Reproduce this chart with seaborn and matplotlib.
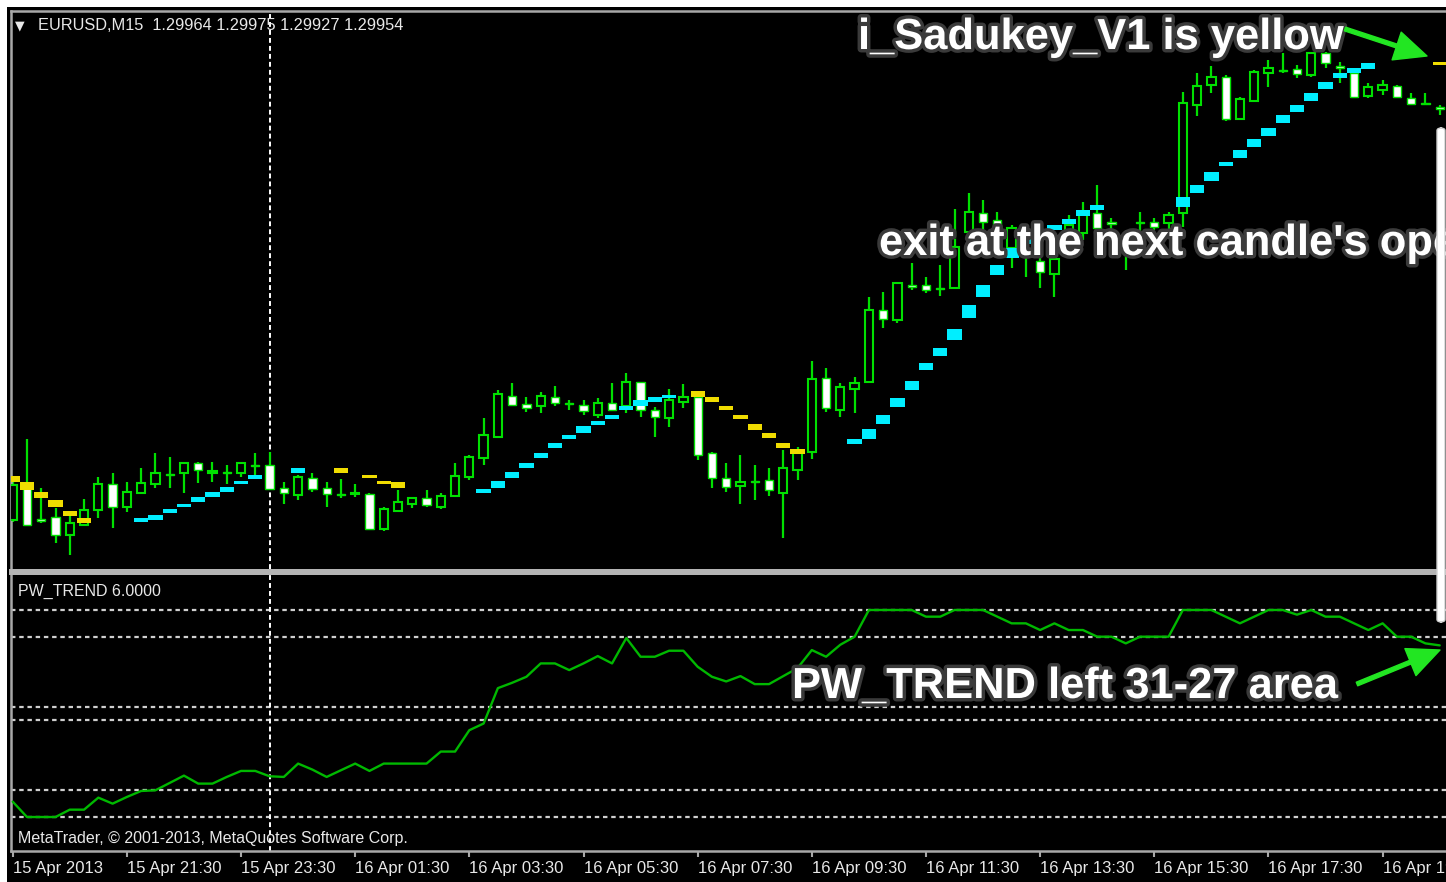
import numpy as np
import matplotlib
matplotlib.use("Agg")
import matplotlib.pyplot as plt
import matplotlib.patches as mpatches
import matplotlib.patheffects as pe
import seaborn as sns

# ---------------- data ----------------
bar_idx = list(range(101))  # 15-minute bars, 15 Apr 19:30 ... 16 Apr 20:30

opens = [1.27900, 1.28085, 1.27905, 1.27915, 1.27825, 1.27875, 1.27950, 1.28080, 1.27965, 1.28035,
         1.28080, 1.28130, 1.28135, 1.28185, 1.28135, 1.28140, 1.28135, 1.28175, 1.28175, 1.28060,
         1.28025, 1.28110, 1.28060, 1.28030, 1.28030, 1.28030, 1.27855, 1.27945, 1.27980, 1.28010,
         1.27965, 1.28020, 1.28115, 1.28210, 1.28315, 1.28520, 1.28480, 1.28470, 1.28515, 1.28485,
         1.28475, 1.28425, 1.28485, 1.28470, 1.28590, 1.28450, 1.28410, 1.28490, 1.28515, 1.28235,
         1.28110, 1.28070, 1.28095, 1.28100, 1.28035, 1.28150, 1.28240, 1.28610, 1.28450, 1.28555,
         1.28590, 1.28950, 1.28900, 1.29075, 1.29075, 1.29060, 1.29060, 1.29340, 1.29435, 1.29400,
         1.29260, 1.29250, 1.29195, 1.29130, 1.29300, 1.29335, 1.29435, 1.29390, 1.29275, 1.29390,
         1.29390, 1.29385, 1.29435, 1.29975, 1.30075, 1.30115, 1.29905, 1.29995, 1.30135, 1.30150,
         1.30155, 1.30125, 1.30235, 1.30170, 1.30135, 1.30020, 1.30050, 1.30070, 1.30010, 1.29985,
         1.29964]
highs = [1.28110, 1.28305, 1.28060, 1.27960, 1.27925, 1.28005, 1.28115, 1.28135, 1.28090, 1.28160,
         1.28235, 1.28215, 1.28190, 1.28190, 1.28190, 1.28175, 1.28190, 1.28235, 1.28240, 1.28090,
         1.28125, 1.28135, 1.28090, 1.28105, 1.28080, 1.28035, 1.27965, 1.28050, 1.28015, 1.28050,
         1.28035, 1.28185, 1.28225, 1.28410, 1.28550, 1.28585, 1.28515, 1.28540, 1.28570, 1.28500,
         1.28500, 1.28510, 1.28585, 1.28635, 1.28590, 1.28465, 1.28555, 1.28580, 1.28535, 1.28240,
         1.28185, 1.28225, 1.28175, 1.28160, 1.28250, 1.28265, 1.28695, 1.28660, 1.28585, 1.28615,
         1.29015, 1.29040, 1.29090, 1.29185, 1.29115, 1.29175, 1.29455, 1.29535, 1.29500, 1.29440,
         1.29375, 1.29300, 1.29250, 1.29260, 1.29425, 1.29490, 1.29575, 1.29410, 1.29340, 1.29440,
         1.29410, 1.29440, 1.30040, 1.30135, 1.30170, 1.30125, 1.30015, 1.30150, 1.30200, 1.30235,
         1.30175, 1.30240, 1.30240, 1.30190, 1.30140, 1.30085, 1.30100, 1.30075, 1.30035, 1.30035,
         1.29975]
lows = [1.27890, 1.27870, 1.27885, 1.27785, 1.27725, 1.27870, 1.27910, 1.27860, 1.27940, 1.28030,
        1.28060, 1.28060, 1.28035, 1.28085, 1.28090, 1.28080, 1.28115, 1.28115, 1.28050, 1.27980,
        1.28000, 1.28040, 1.27965, 1.28010, 1.28015, 1.27850, 1.27845, 1.27945, 1.27960, 1.27965,
        1.27955, 1.28015, 1.28100, 1.28175, 1.28310, 1.28475, 1.28440, 1.28435, 1.28470, 1.28450,
        1.28425, 1.28410, 1.28450, 1.28435, 1.28415, 1.28315, 1.28365, 1.28460, 1.28200, 1.28060,
        1.28040, 1.27980, 1.28000, 1.28020, 1.27810, 1.28100, 1.28205, 1.28440, 1.28415, 1.28435,
        1.28585, 1.28860, 1.28885, 1.29050, 1.29035, 1.29020, 1.29055, 1.29275, 1.29325, 1.29325,
        1.29160, 1.29115, 1.29060, 1.29015, 1.29225, 1.29300, 1.29340, 1.29340, 1.29150, 1.29340,
        1.29350, 1.29350, 1.29365, 1.29920, 1.30035, 1.29895, 1.29900, 1.29990, 1.30065, 1.30135,
        1.30110, 1.30115, 1.30160, 1.30085, 1.30010, 1.30010, 1.30025, 1.30010, 1.29980, 1.29975,
        1.29927]
closes = [1.28075, 1.27875, 1.27895, 1.27825, 1.27885, 1.27950, 1.28080, 1.27965, 1.28040, 1.28085,
          1.28135, 1.28125, 1.28185, 1.28150, 1.28145, 1.28135, 1.28185, 1.28170, 1.28055, 1.28035,
          1.28115, 1.28055, 1.28030, 1.28025, 1.28035, 1.27855, 1.27955, 1.27990, 1.28010, 1.27975,
          1.28020, 1.28120, 1.28215, 1.28325, 1.28530, 1.28475, 1.28460, 1.28520, 1.28485, 1.28480,
          1.28445, 1.28485, 1.28450, 1.28590, 1.28450, 1.28415, 1.28500, 1.28515, 1.28225, 1.28110,
          1.28065, 1.28090, 1.28090, 1.28050, 1.28160, 1.28235, 1.28605, 1.28460, 1.28565, 1.28585,
          1.28950, 1.28905, 1.29085, 1.29065, 1.29050, 1.29055, 1.29265, 1.29440, 1.29390, 1.29360,
          1.29360, 1.29220, 1.29140, 1.29205, 1.29375, 1.29435, 1.29360, 1.29380, 1.29290, 1.29385,
          1.29365, 1.29425, 1.29985, 1.30070, 1.30115, 1.29905, 1.30005, 1.30140, 1.30160, 1.30145,
          1.30130, 1.30235, 1.30185, 1.30160, 1.30015, 1.30065, 1.30075, 1.30015, 1.29980, 1.29980,
          1.29954]

# i_Sadukey_V1 histogram (upper / lower edge of each block), None = no value
sad_hi = [1.28120, 1.28090, 1.28040, 1.28000, 1.27945, 1.27910, None, None, None, 1.27910,
          1.27925, 1.27955, 1.27980, 1.28015, 1.28040, 1.28065, 1.28095, 1.28125, None, None,
          1.28160, None, None, 1.28160, None, 1.28125, 1.28095, 1.28090, None, None,
          None, None, None, 1.28055, 1.28095, 1.28140, 1.28185, 1.28235, 1.28285, 1.28325,
          1.28370, 1.28395, 1.28425, 1.28470, 1.28500, 1.28515, 1.28525, None, 1.28545, 1.28515,
          1.28470, 1.28425, 1.28380, 1.28335, 1.28285, 1.28255, None, None, None, 1.28305,
          1.28355, 1.28425, 1.28510, 1.28595, 1.28685, 1.28760, 1.28855, 1.28975, 1.29075, 1.29175,
          1.29260, 1.29310, 1.29345, 1.29375, 1.29405, 1.29450, 1.29475, None, None, None,
          None, None, 1.29515, 1.29575, 1.29640, 1.29690, 1.29750, 1.29805, 1.29860, 1.29925,
          1.29975, 1.30035, 1.30090, 1.30135, 1.30160, 1.30185, None, None, None, None,
          1.30190]
sad_lo = [1.28090, 1.28050, 1.28010, 1.27965, 1.27920, 1.27885, None, None, None, 1.27890,
          1.27900, 1.27935, 1.27965, 1.27990, 1.28015, 1.28040, 1.28080, 1.28105, None, None,
          1.28135, None, None, 1.28135, None, 1.28110, 1.28080, 1.28060, None, None,
          None, None, None, 1.28035, 1.28060, 1.28110, 1.28160, 1.28210, 1.28260, 1.28305,
          1.28335, 1.28375, 1.28405, 1.28450, 1.28470, 1.28490, 1.28510, None, 1.28515, 1.28490,
          1.28450, 1.28405, 1.28350, 1.28310, 1.28260, 1.28230, None, None, None, 1.28280,
          1.28305, 1.28380, 1.28465, 1.28550, 1.28650, 1.28720, 1.28800, 1.28910, 1.29015, 1.29125,
          1.29210, 1.29280, 1.29320, 1.29350, 1.29380, 1.29420, 1.29450, None, None, None,
          None, None, 1.29465, 1.29535, 1.29595, 1.29670, 1.29710, 1.29765, 1.29820, 1.29885,
          1.29940, 1.29995, 1.30055, 1.30110, 1.30135, 1.30155, None, None, None, None,
          1.30175]
# Y = yellow (down), C = cyan (up), - = empty
sad_state = "YYYYYY---CCCCCCCCC--C--Y-YYY-----CCCCCCCCCCCCCC-YYYYYYYY---CCCCCCCCCCCCCCCCCC-----CCCCCCCCCCCCCC----Y"

pw_trend = [2.3, 0.0, 0.0, 0.0, 1.1, 1.1, 2.9, 2.0, 3.0, 3.9,
            4.0, 5.1, 6.2, 5.0, 5.0, 6.0, 6.9, 6.9, 6.1, 6.0,
            8.0, 7.1, 6.0, 7.0, 8.0, 6.9, 8.0, 8.0, 8.0, 8.0,
            9.8, 9.8, 13.0, 14.0, 19.3, 20.1, 21.0, 23.0, 23.0, 22.0,
            23.0, 24.1, 23.0, 26.8, 24.0, 24.0, 24.9, 24.9, 22.5, 21.0,
            20.3, 21.1, 19.9, 19.9, 21.1, 22.3, 25.0, 24.0, 25.8, 27.0,
            31, 31, 31, 31, 30, 30, 31, 31, 31, 30,
            29, 29, 28, 29, 28, 28, 27, 27, 26, 27,
            27, 27, 31, 31, 31, 30, 29, 30, 31, 31,
            30.3, 31, 30, 30, 29, 28, 29, 27, 27, 26,
            25.7]
pw_levels = [31, 27, 16.5, 14.5, 4, 0]

tick_bars = [0, 8, 16, 24, 32, 40, 48, 56, 64, 72, 80, 88, 96]
tick_labels = ["15 Apr 2013", "15 Apr 21:30", "15 Apr 23:30", "16 Apr 01:30", "16 Apr 03:30",
               "16 Apr 05:30", "16 Apr 07:30", "16 Apr 09:30", "16 Apr 11:30", "16 Apr 13:30",
               "16 Apr 15:30", "16 Apr 17:30", "16 Apr 19:30"]
day_separator_bar = 18

header_text = "EURUSD,M15  1.29964 1.29975 1.29927 1.29954"
ind_text = "PW_TREND 6.0000"
copyright_text = "MetaTrader, \u00a9 2001-2013, MetaQuotes Software Corp."
note1 = "i_Sadukey_V1 is yellow"
note2 = "exit at the next candle's open"
note3 = "PW_TREND left 31-27 area"

# ---------------- style ----------------
sns.set_theme(style="dark")
plt.rcParams['font.family'] = ['Liberation Sans', 'DejaVu Sans']

GREEN = '#00e000'
PWGREEN = '#00b800'
CYAN = '#00eeff'
YELLOW = '#f0dc00'
TXT = '#e8e8e8'
FRAME = '#a8a8a8'

W, H = 1446, 882
fig = plt.figure(figsize=(W / 100, H / 100), dpi=100, facecolor='black')


def fx(px):
    return px / W


def fy(py):
    return 1 - py / H


# white margin (top / left)
fig.add_artist(mpatches.Rectangle((0, fy(7)), 1, 7 / H, transform=fig.transFigure, fc='white', ec='none', zorder=0))
fig.add_artist(mpatches.Rectangle((0, 0), fx(7), 1, transform=fig.transFigure, fc='white', ec='none', zorder=0))

x = np.array(bar_idx, dtype=float)
xlim = ((11 - 12.7) / 14.27, (1446 - 12.7) / 14.27)

# ---------------- main price panel ----------------
ax = fig.add_axes([fx(11), fy(569), fx(1446) - fx(11), (569 - 11) / H])
ax.set_facecolor('black')
o = np.array(opens); hgh = np.array(highs); lw_ = np.array(lows); c = np.array(closes)
up = c >= o
ax.vlines(x, lw_, hgh, color=GREEN, lw=1.6, zorder=2)
ax.bar(x[up], (c - o)[up], bottom=o[up], width=0.58, color='black', edgecolor=GREEN, linewidth=1.5, zorder=3)
ax.bar(x[~up], (c - o)[~up], bottom=o[~up], width=0.58, color='white', edgecolor=GREEN, linewidth=1.0, zorder=3)

shi = np.array([np.nan if v is None else v for v in sad_hi])
slo = np.array([np.nan if v is None else v for v in sad_lo])
m = ~np.isnan(shi)
scol = np.array([CYAN if s == 'C' else YELLOW for s in sad_state])
ax.bar(x[m], (shi - slo)[m], bottom=slo[m], width=1.0, color=scol[m], linewidth=0, zorder=4)

ax.axvline(day_separator_bar, color='white', lw=1.4, ls=(0, (2.5, 1.6)), zorder=1)
ax.set_xlim(*xlim)
ax.set_ylim(1.27655, 1.30445)
ax.set_xticks([]); ax.set_yticks([])
for s in ['right', 'bottom']:
    ax.spines[s].set_visible(False)
for s in ['left', 'top']:
    ax.spines[s].set_color(FRAME); ax.spines[s].set_linewidth(1.8)

# ---------------- PW_TREND panel ----------------
ax2 = fig.add_axes([fx(11), fy(851), fx(1446) - fx(11), (851 - 575) / H])
ax2.set_facecolor('black')
for lv in pw_levels:
    ax2.axhline(lv, color='#cfcfcf', lw=1.6, ls=(0, (2.0, 1.7)), zorder=1)
ax2.axvline(day_separator_bar, color='white', lw=1.4, ls=(0, (2.5, 1.6)), zorder=1)
sns.lineplot(x=bar_idx, y=pw_trend, ax=ax2, color=PWGREEN, linewidth=1.7, zorder=3)
ax2.set_xlim(*xlim)
ax2.set_ylim(-5.09, 36.24)
ax2.set_yticks([])
ax2.set_xlabel(''); ax2.set_ylabel('')
ax2.set_xticks(tick_bars)
ax2.set_xticklabels(tick_labels, ha='left')
ax2.tick_params(axis='x', which='both', bottom=True, direction='out', length=4, width=1.5,
                color=FRAME, labelcolor=TXT, labelsize=12, pad=3)
ax2.spines['right'].set_visible(False)
ax2.spines['top'].set_visible(False)
for s in ['left', 'bottom']:
    ax2.spines[s].set_color(FRAME); ax2.spines[s].set_linewidth(1.8)

# separator between panels
fig.add_artist(mpatches.Rectangle((fx(9), fy(575)), 1, 6 / H, transform=fig.transFigure,
                                  fc='#b4b4b4', ec='none', zorder=5))

# ---------------- small texts ----------------
fig.text(fx(15), fy(26), "\u25bc", color=TXT, fontsize=9, family='DejaVu Sans', va='center', ha='left')
fig.text(fx(38), fy(26), header_text, color=TXT, fontsize=11.8, va='center', ha='left')
fig.text(fx(18), fy(591), ind_text, color=TXT, fontsize=11.5, va='center', ha='left')
fig.text(fx(18), fy(838), copyright_text, color=TXT, fontsize=11.5, va='center', ha='left')

# ---------------- annotations ----------------
fx_eff = [pe.SimplePatchShadow(offset=(2, -2), shadow_rgbFace='black', alpha=0.9),
          pe.Stroke(linewidth=5, foreground='#3a3a3a'), pe.Normal()]
for txt, px, py in [(note1, 858, 49), (note2, 879, 255), (note3, 792, 698)]:
    fig.text(fx(px), fy(py), txt, color='white', fontsize=31.3, fontweight='bold',
             family='Liberation Sans', va='baseline', ha='left', path_effects=fx_eff, zorder=10)

arrow_style = "simple,head_length=1.15,head_width=1.05,tail_width=0.14"
for (x0, y0), (x1, y1) in [((1345, 29), (1427, 56)), ((1357, 684), (1440, 650))]:
    fig.add_artist(mpatches.FancyArrowPatch((fx(x0), fy(y0)), (fx(x1), fy(y1)),
                                            transform=fig.transFigure, arrowstyle=arrow_style,
                                            mutation_scale=20, color='#22e622', shrinkA=0, shrinkB=0,
                                            zorder=11))

# white vertical marker at right edge
fig.add_artist(mpatches.FancyBboxPatch((fx(1437), fy(622)), 8 / W, (622 - 128) / H,
                                       boxstyle="round,pad=0,rounding_size=0.003",
                                       transform=fig.transFigure, fc='white', ec='#d0d0d0',
                                       lw=1, zorder=12))

fig.savefig('out.png', dpi=100, facecolor='black')
